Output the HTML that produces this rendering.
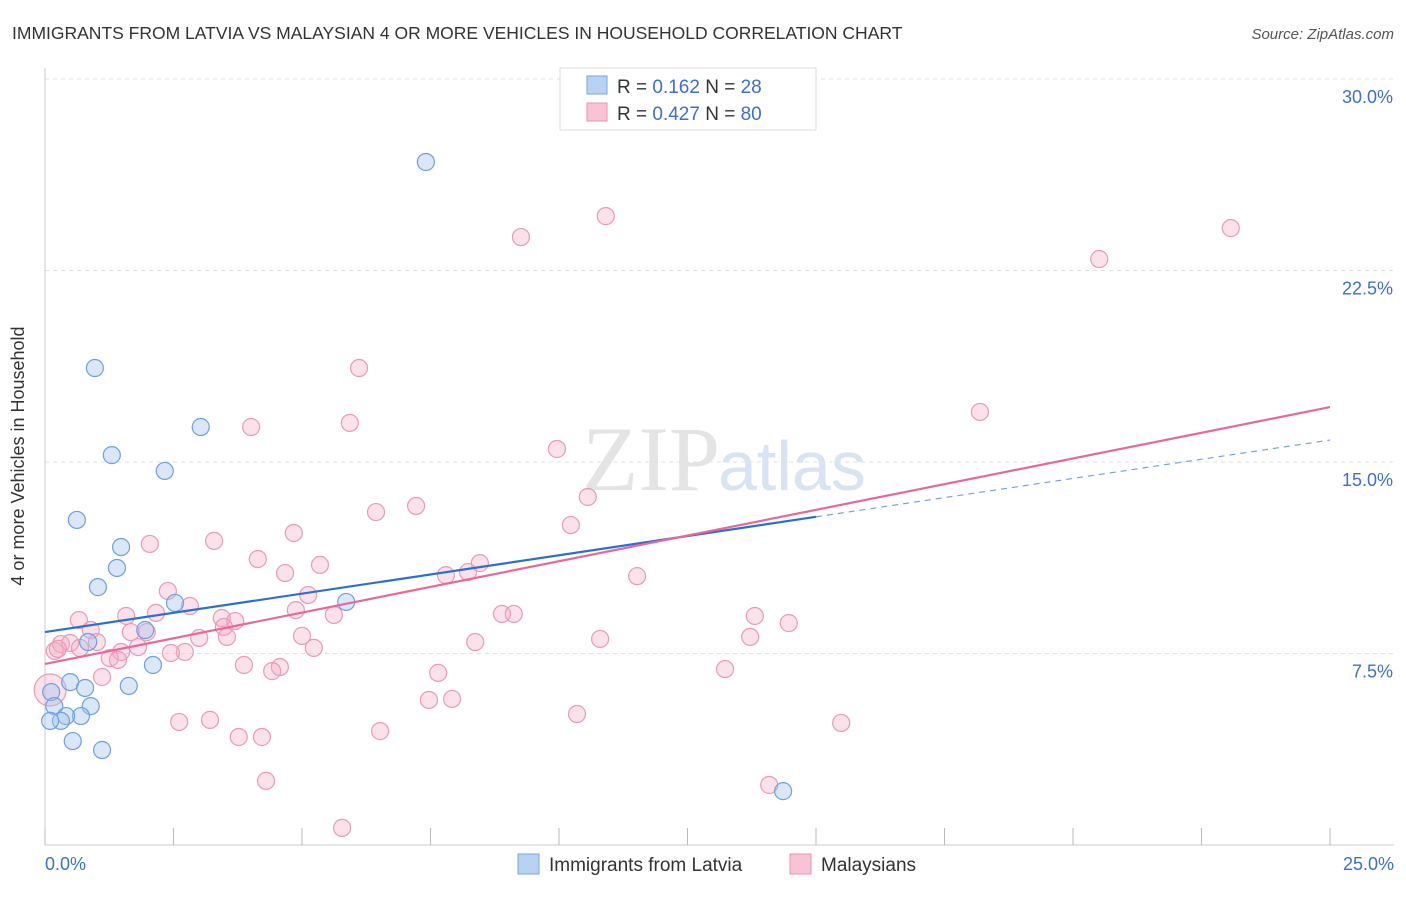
<!DOCTYPE html>
<html><head><meta charset="utf-8"><style>
body{margin:0;background:#fff;font-family:"Liberation Sans",sans-serif;}
</style></head><body>
<svg width="1406" height="892" xmlns="http://www.w3.org/2000/svg" font-family="Liberation Sans, sans-serif">
<text x="12" y="39" font-size="17.5" fill="#333">IMMIGRANTS FROM LATVIA VS MALAYSIAN 4 OR MORE VEHICLES IN HOUSEHOLD CORRELATION CHART</text>
<text x="1394" y="39" font-size="15" fill="#555" font-style="italic" text-anchor="end">Source: ZipAtlas.com</text>
<text x="720" y="490" font-size="92" fill="#e4e4e4" font-family="Liberation Serif, serif" text-anchor="end">ZIP</text>
<text x="718" y="490" font-size="70" fill="#d8e4f4">atlas</text>
<g id="grid"></g>
<line x1="45" y1="68" x2="45" y2="845" stroke="#ccc"/>
<line x1="45" y1="845" x2="1394" y2="845" stroke="#ccc"/>
<g id="ticks"></g>
<text x="24" y="456" font-size="18" fill="#333" text-anchor="middle" transform="rotate(-90 24 456)">4 or more Vehicles in Household</text>
<text x="45" y="870" font-size="18" fill="#3b6fd4">0.0%</text>
<text x="1394" y="870" font-size="18" fill="#3b6fd4" text-anchor="end">25.0%</text>
<g id="pts"></g>
<g id="lines"></g>
<g>
<rect x="560" y="68" width="256" height="62" fill="#fff" stroke="#ddd"/>
<rect x="587" y="76" width="20" height="18" fill="#b8d2f4" stroke="#7aa6e4"/>
<rect x="587" y="103" width="20" height="18" fill="#f8c4d4" stroke="#eb94b2"/>
<text x="617" y="93" font-size="19" fill="#333">R = <tspan fill="#3b6fd4">0.162</tspan>   N = <tspan fill="#3b6fd4">28</tspan></text>
<text x="617" y="120" font-size="19" fill="#333">R = <tspan fill="#3b6fd4">0.427</tspan>   N = <tspan fill="#3b6fd4">80</tspan></text>
</g>
<g>
<rect x="518" y="854" width="21" height="20" fill="#b8d2f4" stroke="#7aa6e4"/>
<text x="549" y="871" font-size="19" fill="#333">Immigrants from Latvia</text>
<rect x="790" y="854" width="21" height="20" fill="#f8c4d4" stroke="#eb94b2"/>
<text x="821" y="871" font-size="19" fill="#333">Malaysians</text>
</g>
</svg>
<script>
const yTicks=[7.5,15,22.5,30];
const yTickLabels=["7.5%","15.0%","22.5%","30.0%"];
const xTicks=[0,2.5,5,7.5,10,12.5,15,17.5,20,22.5,25];
const latviaX=[7.41,0.97,3.03,1.30,2.33,0.62,1.48,1.40,1.03,5.86,2.53,1.95,0.84,2.10,0.49,0.78,1.63,0.12,0.18,0.89,0.70,0.41,0.31,0.10,0.54,1.11,14.36];
const latviaY=[26.75,18.68,16.37,15.27,14.65,12.73,11.67,10.85,10.10,9.52,9.48,8.42,7.95,7.05,6.38,6.15,6.23,5.99,5.44,5.44,5.05,5.05,4.86,4.86,4.07,3.72,2.11];
const malayX=[10.91,9.26,23.07,20.51,6.11,4.01,5.93,18.19,9.96,10.56,7.22,6.44,10.23,4.84,2.04,3.29,4.14,5.35,8.46,4.67,7.80,8.23,11.52,2.39,5.12,2.82,4.88,1.58,2.16,8.89,9.12,5.62,13.81,0.66,3.44,3.70,0.89,3.48,1.67,1.98,14.47,5.00,3.00,3.54,13.72,10.80,8.37,1.01,0.31,0.49,0.68,5.23,1.81,0.19,0.25,2.72,2.45,1.48,1.26,1.42,3.87,4.57,4.42,7.65,13.23,1.11,7.47,7.92,10.35,2.61,3.21,15.49,6.52,3.77,4.22,4.30,14.09,5.78,0.10];
const malayY=[24.63,23.81,24.16,22.95,18.68,16.37,16.53,16.96,15.51,13.63,13.28,13.04,12.53,12.22,11.79,11.91,11.20,10.97,11.04,10.65,10.57,10.69,10.53,9.95,9.79,9.36,9.20,8.97,9.09,9.05,9.05,9.01,8.97,8.81,8.89,8.77,8.42,8.54,8.34,8.34,8.69,8.19,8.11,8.15,8.15,8.07,7.95,7.95,7.87,7.91,7.72,7.72,7.75,7.60,7.68,7.56,7.52,7.56,7.32,7.25,7.05,6.97,6.81,6.74,6.89,6.58,5.68,5.72,5.13,4.82,4.90,4.78,4.46,4.23,4.23,2.51,2.35,0.67,6.07];
const latviaTrend=[8.34,15.86];
const malayTrend=[7.09,17.15];
const NS="http://www.w3.org/2000/svg";
const xs=v=>45+v/25*1285;
const ys=v=>845-v/7.5*191.5;
function mk(tag,attrs,parent){const e=document.createElementNS(NS,tag);for(const k in attrs)e.setAttribute(k,attrs[k]);document.getElementById(parent).appendChild(e);return e;}
yTicks.forEach((t,i)=>{
 const l=mk('line',{x1:45,x2:1394,y1:ys(t),y2:ys(t),stroke:'#e2e2e2','stroke-dasharray':'4,4'},'grid');
 
 
 const tx=mk('text',{x:1393,y:ys(t)+24,'font-size':18,fill:'#3b6fd4','text-anchor':'end'},'grid');
 tx.textContent=yTickLabels[i];
 
 
});
xTicks.forEach(t=>{
 const l=mk('line',{x1:xs(t),x2:xs(t),y1:828,y2:845,stroke:'#bbb'},'ticks');
 
 
});
malayX.forEach((v,i)=>{
 const r=i===malayX.length-1?16:8.5;
 const c=mk('circle',{cx:xs(v),cy:ys(malayY[i]),r:r,fill:'rgba(244,170,196,0.35)',stroke:'#eb9ab6','stroke-width':1.2},'pts');
 
 
});
latviaX.forEach((v,i)=>{
 const c=mk('circle',{cx:xs(v),cy:ys(latviaY[i]),r:8.5,fill:'rgba(160,195,240,0.4)',stroke:'#6f9fe2','stroke-width':1.2},'pts');
 
 
});
const lv=t=>latviaTrend[0]+(latviaTrend[1]-latviaTrend[0])*t/25;
const ml=t=>malayTrend[0]+(malayTrend[1]-malayTrend[0])*t/25;
let a=mk('line',{x1:xs(0),y1:ys(lv(0)),x2:xs(15),y2:ys(lv(15)),stroke:'#2b6fd6','stroke-width':2.2},'lines');


let b=mk('line',{x1:xs(15),y1:ys(lv(15)),x2:xs(25),y2:ys(lv(25)),stroke:'#6f9fe2','stroke-width':1.2,'stroke-dasharray':'6,5'},'lines');


let c=mk('line',{x1:xs(0),y1:ys(ml(0)),x2:xs(25),y2:ys(ml(25)),stroke:'#e8689a','stroke-width':2.2},'lines');


</script>
</body></html>
